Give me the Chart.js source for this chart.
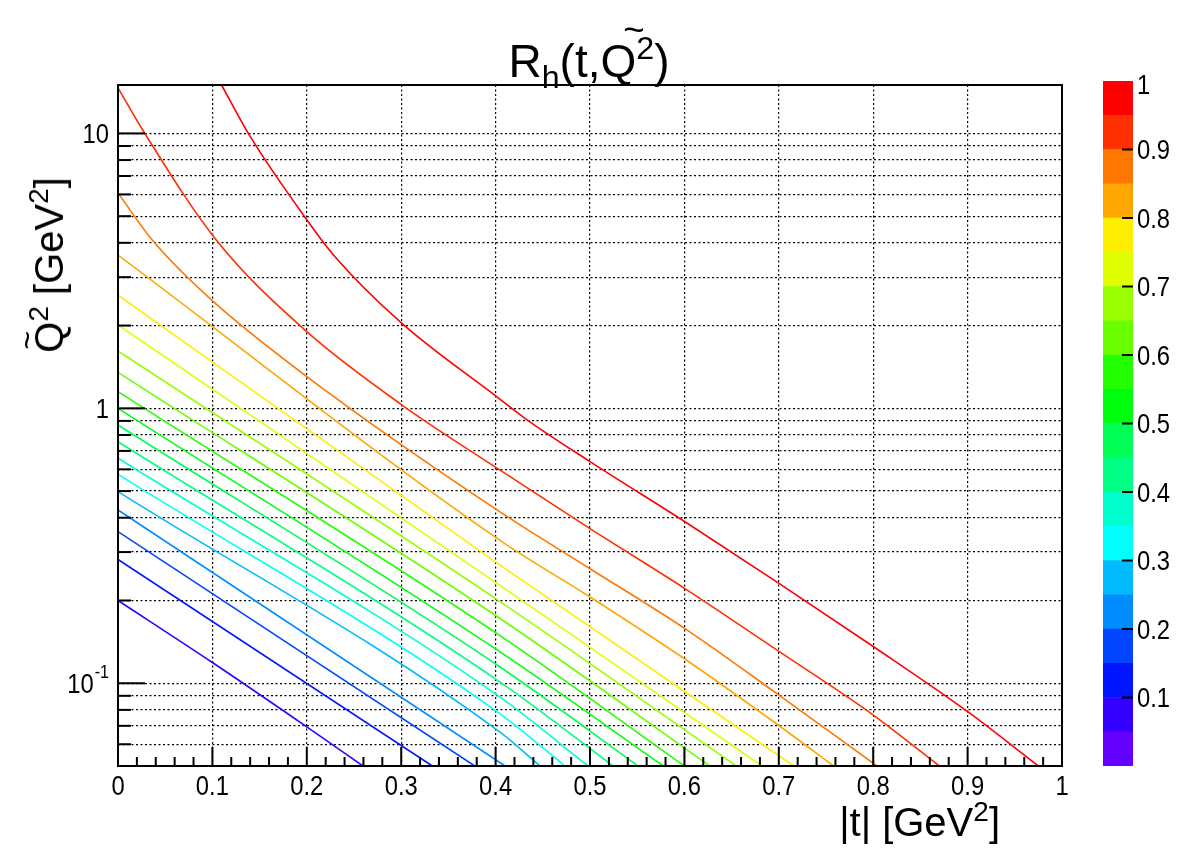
<!DOCTYPE html>
<html>
<head>
<meta charset="utf-8">
<script src="https://cdn.jsdelivr.net/npm/chart.js@4.4.0/dist/chart.umd.min.js"></script>
<style>
  body { margin: 0; background: #fff; }
  #wrap { position: relative; width: 1182px; height: 853px; font-family: "Liberation Sans", Arial, sans-serif; color: #000; }
  #wrap canvas { position: absolute; }
  .lbl { position: absolute; white-space: nowrap; line-height: 1; }
  .lbl sub { font-size: 70%; vertical-align: -0.35em; line-height: 0; }
  .lbl sup { font-size: 70%; vertical-align: 0.55em; line-height: 0; }
  .q { position: relative; }
  .tilde { position: absolute; left: 0.62em; top: -0.62em; font-size: 0.8em; }
</style>
</head>
<body>
<div id="wrap">
  <canvas id="contour" width="1182" height="853" style="left:0;top:0"></canvas>
  <canvas id="palette" width="92" height="853" style="left:1090px;top:0"></canvas>
  <div class="lbl" id="title" style="left:589px;top:38px;font-size:46px;transform:translateX(-50%)">R<sub>h</sub>(t,<span class="q">Q<span class="tilde">~</span></span><sup>2</sup>)</div>
  <div class="lbl" id="ytitle" style="left:49px;top:265px;font-size:40px;transform:translate(-50%,-50%) rotate(-90deg)"><span class="q">Q<span class="tilde" style="left:0.1em;top:-0.5em">~</span></span><sup>2</sup> [GeV<sup>2</sup>]</div>
  <div class="lbl" id="xtitle" style="right:182px;top:802px;font-size:40px">|t| [GeV<sup>2</sup>]</div>
</div>
<script>
// contour levels of R_h and the colour of each level (ROOT pretty palette, 20 bins)
const contourLevels = [0.05, 0.10, 0.15, 0.20, 0.25, 0.30, 0.35, 0.40, 0.45, 0.50,
                       0.55, 0.60, 0.65, 0.70, 0.75, 0.80, 0.85, 0.90, 0.95];
const paletteColors = ['#6300ff', '#3300ff', '#0014ff', '#0044ff', '#008bff',
                       '#00bbff', '#00fffc', '#00ffcc', '#00ff85', '#00ff55',
                       '#00ff0e', '#22ff00', '#69ff00', '#99ff00', '#e0ff00',
                       '#ffee00', '#ffa700', '#ff7700', '#ff3000', '#ff0000'];

// contour lines: |t| [GeV^2] and Q~^2 [GeV^2]
const t05 = [0, 0.1, 0.2, 0.2595];
const q05 = [0.2, 0.119, 0.0694, 0.05];
const t10 = [0, 0.333];
const q10 = [0.282, 0.05];
const t15 = [0, 0.378];
const q15 = [0.356, 0.05];
const t20 = [0, 0.41];
const q20 = [0.427, 0.05];
const t25 = [0, 0.4047, 0.447];
const q25 = [0.498, 0.0664, 0.05];
const t30 = [0, 0.4047, 0.4735];
const q30 = [0.575, 0.0774, 0.05];
const t35 = [0, 0.4047, 0.498];
const q35 = [0.658, 0.089, 0.05];
const t40 = [0, 0.4047, 0.5247];
const q40 = [0.756, 0.101, 0.05];
const t45 = [0, 0.4047, 0.551];
const q45 = [0.87, 0.1146, 0.05];
const t50 = [0, 0.4047, 0.5777];
const q50 = [1.0, 0.130, 0.05];
const t55 = [0, 0.4047, 0.600];
const q55 = [1.15, 0.149, 0.05];
const t60 = [0, 0.4047, 0.627];
const q60 = [1.352, 0.172, 0.05];
const t65 = [0, 0.4047, 0.655];
const q65 = [1.616, 0.198, 0.05];
const t70 = [0, 0.4047, 0.682];
const q70 = [2.01, 0.227, 0.05];
const t75 = [0, 0.4047, 0.716];
const q75 = [2.58, 0.269, 0.05];
const t80 = [0, 0.4047, 0.5, 0.6, 0.7, 0.758];
const q80 = [3.61, 0.331, 0.206, 0.1228, 0.0702, 0.05];
const t85 = [0, 0.0374, 0.099, 0.2, 0.4047, 0.5, 0.6006, 0.7006, 0.804];
const q85 = [6.07, 4.05, 2.48, 1.305, 0.42, 0.261, 0.158, 0.0903, 0.05];
const t90 = [0, 0.0268, 0.1045, 0.2, 0.3005, 0.4047, 0.5, 0.6006, 0.701, 0.8008, 0.870];
const q90 = [14.65, 10.2, 4.08, 1.90, 1.03, 0.596, 0.365, 0.221, 0.130, 0.0763, 0.05];
const t95 = [0.1097, 0.1398, 0.2, 0.228, 0.3005, 0.401, 0.431, 0.5, 0.6006, 0.7006, 0.8008, 0.9008, 0.975];
const q95 = [15, 9.77, 4.85, 3.62, 2.04, 1.103, 0.92, 0.64, 0.3866, 0.2304, 0.1355, 0.0785, 0.05];

const contourT = [t05, t10, t15, t20, t25, t30, t35, t40, t45, t50, t55, t60, t65, t70, t75, t80, t85, t90, t95];
const contourQ = [q05, q10, q15, q20, q25, q30, q35, q40, q45, q50, q55, q60, q65, q70, q75, q80, q85, q90, q95];

// axes
const xTickValues = [0, 0.1, 0.2, 0.3, 0.4, 0.5, 0.6, 0.7, 0.8, 0.9, 1];
const xTickLabels = ['0', '0.1', '0.2', '0.3', '0.4', '0.5', '0.6', '0.7', '0.8', '0.9', '1'];
const yGridValues = [0.06, 0.07, 0.08, 0.09, 0.1, 0.2, 0.3, 0.4, 0.5, 0.6, 0.7, 0.8, 0.9,
                     1, 2, 3, 4, 5, 6, 7, 8, 9, 10];
const yMajorValues = [0.1, 1, 10];
const yMajorLabels = [['10', '-1'], ['1', ''], ['10', '']];
const paletteTickValues = [0.1, 0.2, 0.3, 0.4, 0.5, 0.6, 0.7, 0.8, 0.9, 1];
const paletteTickLabels = ['0.1', '0.2', '0.3', '0.4', '0.5', '0.6', '0.7', '0.8', '0.9', '1'];

const tickFont = '28px "Liberation Sans", Arial, sans-serif';
const supFont = '19px "Liberation Sans", Arial, sans-serif';
const squeeze = 0.85; // ROOT's helvetica renders a bit narrow

// narrow text helper
function narrowText(ctx, str, x, y, align) {
    ctx.save();
    ctx.translate(x, y);
    ctx.scale(squeeze, 1);
    ctx.textAlign = align;
    ctx.fillText(str, 0, 0);
    ctx.restore();
}

// frame, inside tick marks and tick labels (ROOT style)
const frameTicks = {
    id: 'frameTicks',
    afterDraw(chart) {
        const { ctx, chartArea: a, scales: { x, y } } = chart;
        ctx.save();
        ctx.strokeStyle = '#000';
        ctx.fillStyle = '#000';
        ctx.lineWidth = 2;

        // x: major every 0.1, minor every 0.02
        for (let i = 0; i <= 50; i++) {
            const px = x.getPixelForValue(i / 50);
            const len = i % 5 === 0 ? 19 : 9;
            ctx.beginPath();
            ctx.moveTo(px, a.bottom);
            ctx.lineTo(px, a.bottom - len);
            ctx.stroke();
        }
        // y: decades long, the rest short
        yGridValues.forEach(v => {
            const py = y.getPixelForValue(v);
            const len = yMajorValues.includes(v) ? 27 : 13;
            ctx.beginPath();
            ctx.moveTo(a.left, py);
            ctx.lineTo(a.left + len, py);
            ctx.stroke();
        });

        ctx.strokeRect(a.left, a.top, a.right - a.left, a.bottom - a.top);

        ctx.font = tickFont;
        ctx.textBaseline = 'middle';
        xTickValues.forEach((v, i) => {
            narrowText(ctx, xTickLabels[i], x.getPixelForValue(v), a.bottom + 21, 'center');
        });

        yMajorValues.forEach((v, i) => {
            const py = y.getPixelForValue(v);
            const [base, sup] = yMajorLabels[i];
            let right = a.left - 9;
            if (sup) {
                ctx.font = supFont;
                narrowText(ctx, sup, right, py - 10, 'right');
                right -= ctx.measureText(sup).width * squeeze + 1;
                ctx.font = tickFont;
            }
            narrowText(ctx, base, right, py + 2, 'right');
        });
        ctx.restore();
    }
};

const datasets = contourLevels.map((lev, i) => ({
    label: 'R_h = ' + lev.toFixed(2),
    data: contourT[i].map((t, j) => ({ x: t, y: contourQ[i][j] })),
    borderColor: paletteColors[i + 1],
    borderWidth: 1.6,
    showLine: true,
    pointRadius: 0,
    cubicInterpolationMode: 'monotone',
    fill: false
}));

new Chart(document.getElementById('contour'), {
    type: 'scatter',
    data: { datasets: datasets },
    options: {
        responsive: false,
        animation: false,
        devicePixelRatio: 1,
        layout: { padding: { left: 118, right: 120, top: 85, bottom: 87 } },
        plugins: { legend: { display: false }, tooltip: { enabled: false } },
        scales: {
            x: {
                type: 'linear',
                min: 0,
                max: 1,
                ticks: { display: false, stepSize: 0.1 },
                grid: { color: '#000', lineWidth: 1.2, drawTicks: false },
                border: { display: false, dash: [2, 2.5] }
            },
            y: {
                type: 'logarithmic',
                min: 0.05,
                max: 15,
                afterBuildTicks: scale => { scale.ticks = yGridValues.map(v => ({ value: v })); },
                ticks: { display: false },
                grid: { color: '#000', lineWidth: 1.2, drawTicks: false },
                border: { display: false, dash: [2, 2.5] }
            }
        }
    },
    plugins: [frameTicks]
});

// colour palette axis on the right
const paletteAxis = {
    id: 'paletteAxis',
    afterDraw(chart) {
        const { ctx, chartArea: a, scales: { y } } = chart;
        ctx.save();
        ctx.strokeStyle = '#000';
        ctx.fillStyle = '#000';
        ctx.lineWidth = 2;
        ctx.font = tickFont;
        ctx.textBaseline = 'middle';
        paletteTickValues.forEach((v, i) => {
            const py = y.getPixelForValue(v);
            if (v < 1) {
                ctx.beginPath();
                ctx.moveTo(a.right, py);
                ctx.lineTo(a.right - 11, py);
                ctx.stroke();
            }
            narrowText(ctx, paletteTickLabels[i], a.right + 4, v < 1 ? py + 2 : py + 5, 'left');
        });
        ctx.restore();
    }
};

new Chart(document.getElementById('palette'), {
    type: 'bar',
    data: {
        labels: ['z'],
        datasets: paletteColors.map(c => ({
            data: [0.05],
            backgroundColor: c,
            borderWidth: 0,
            barPercentage: 1,
            categoryPercentage: 1
        }))
    },
    options: {
        responsive: false,
        animation: false,
        devicePixelRatio: 1,
        layout: { padding: { left: 13, right: 49, top: 81, bottom: 87 } },
        plugins: { legend: { display: false }, tooltip: { enabled: false } },
        scales: {
            x: { stacked: true, display: false },
            y: { stacked: true, display: false, min: 0, max: 1 }
        }
    },
    plugins: [paletteAxis]
});
</script>
</body>
</html>
